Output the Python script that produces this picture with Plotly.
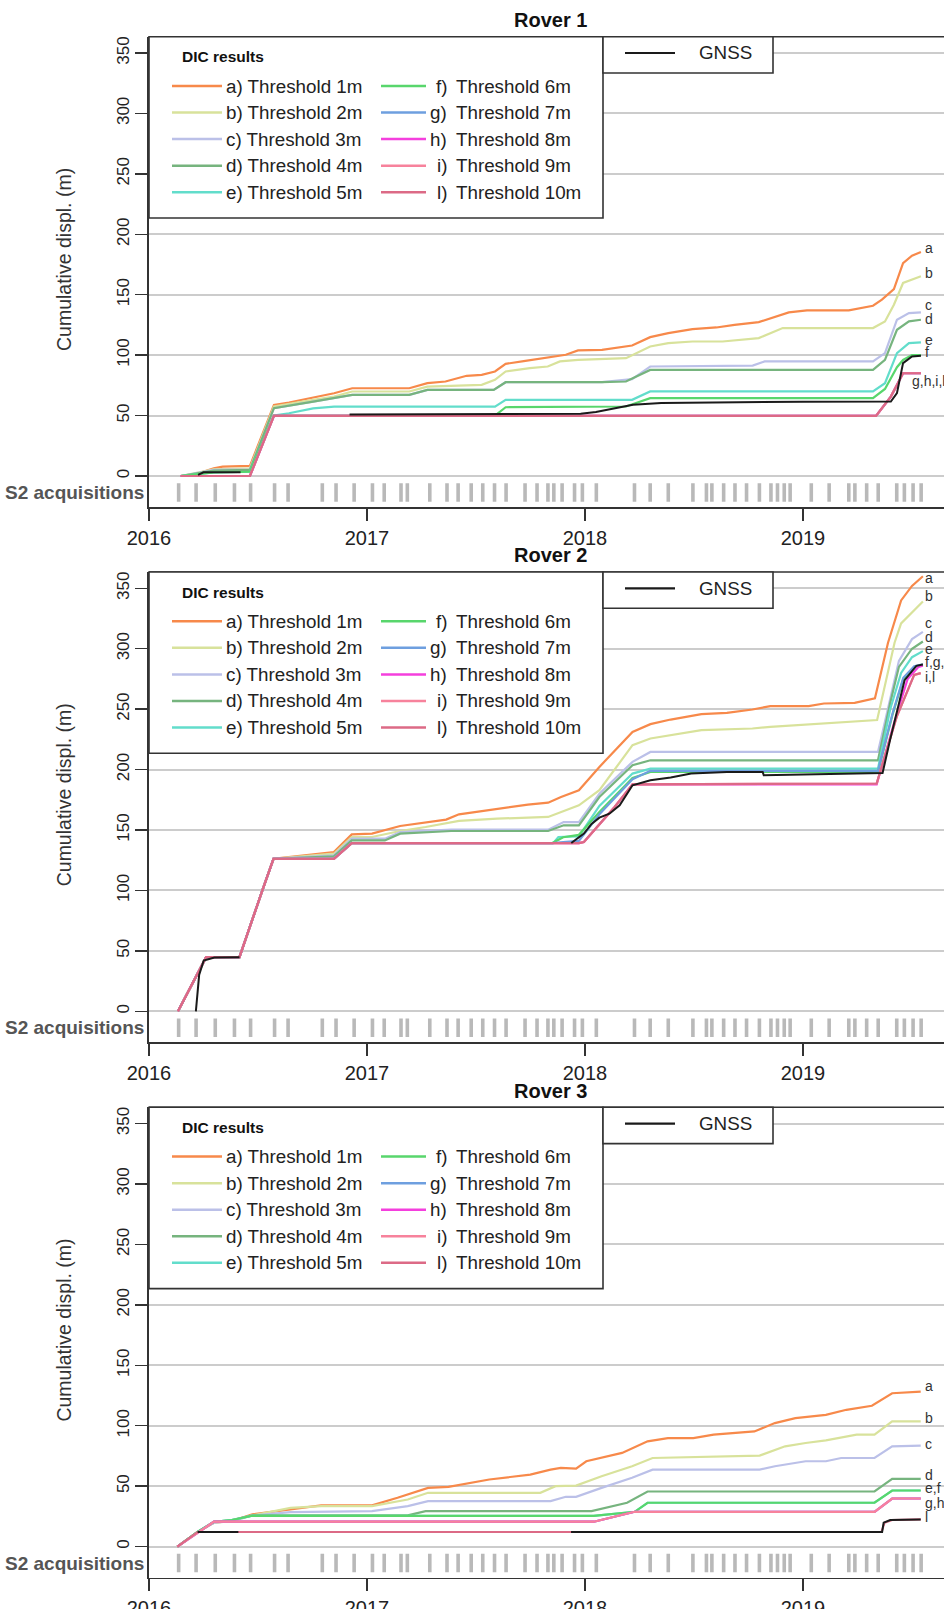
import plotly.graph_objects as go

# ---------------------------------------------------------------- data
SERIES_KEYS = ["a", "b", "c", "d", "e", "f", "g", "h", "i", "l"]
SERIES_NAMES = ["a) Threshold 1m", "b) Threshold 2m", "c) Threshold 3m", "d) Threshold 4m",
                "e) Threshold 5m", "f) Threshold 6m", "g) Threshold 7m", "h) Threshold 8m",
                "i) Threshold 9m", "l) Threshold 10m"]
PANEL_TITLES = ["Rover 1", "Rover 2", "Rover 3"]
X_TICKS = [2016, 2017, 2018, 2019]
Y_TICKS = [0, 50, 100, 150, 200, 250, 300, 350]

# Sentinel-2 acquisition dates (decimal years)
S2_DATES = [2016.136, 2016.216, 2016.304, 2016.392, 2016.466, 2016.576, 2016.638, 2016.795,
            2016.858, 2016.941, 2017.025, 2017.079, 2017.156, 2017.185, 2017.288, 2017.367,
            2017.418, 2017.478, 2017.531, 2017.585, 2017.638, 2017.725, 2017.780, 2017.830,
            2017.857, 2017.895, 2017.952, 2017.988, 2018.052, 2018.227, 2018.299, 2018.382,
            2018.495, 2018.557, 2018.582, 2018.636, 2018.688, 2018.741, 2018.800, 2018.853,
            2018.883, 2018.914, 2018.941, 2019.038, 2019.120, 2019.210, 2019.238, 2019.292,
            2019.345, 2019.430, 2019.465, 2019.505, 2019.542]

# ---- Rover 1
R1_A_T = [2016.145, 2016.228, 2016.297, 2016.338, 2016.463, 2016.573, 2016.642, 2016.753, 2016.849, 2016.932,
          2017.194, 2017.277, 2017.360, 2017.457, 2017.526, 2017.587, 2017.636, 2017.719, 2017.802, 2017.857,
          2017.912, 2017.968, 2018.078, 2018.216, 2018.299, 2018.382, 2018.493, 2018.603, 2018.686, 2018.797,
          2018.880, 2018.935, 2019.018, 2019.210, 2019.321, 2019.362, 2019.417, 2019.459, 2019.500, 2019.541]
R1_A_V = [0, 2.2, 6.4, 7.7, 8.3, 58.8, 60.8, 65.2, 68.5, 72.6,
          72.6, 76.8, 78.2, 82.9, 83.7, 86.5, 92.8, 95.0, 97.2, 98.9,
          100.3, 103.9, 104.4, 108.0, 114.9, 118.2, 121.5, 122.9, 125.1, 127.3,
          132.0, 135.4, 137.0, 137.0, 140.9, 145.9, 154.7, 176.2, 182.3, 185.4]
R1_B_T = [2016.145, 2016.297, 2016.463, 2016.573, 2016.753, 2016.849, 2016.932, 2017.194, 2017.277, 2017.526,
          2017.587, 2017.636, 2017.747, 2017.829, 2017.885, 2017.968, 2018.188, 2018.299, 2018.382, 2018.493,
          2018.631, 2018.714, 2018.797, 2018.907, 2019.321, 2019.376, 2019.417, 2019.459, 2019.514, 2019.541]
R1_B_V = [0, 5.5, 6.4, 57.5, 63.0, 65.7, 69.9, 69.9, 74.0, 75.4,
          79.6, 86.5, 89.2, 90.6, 94.8, 96.1, 97.5, 107.2, 109.9, 111.3,
          111.3, 112.7, 114.1, 122.4, 122.4, 127.9, 141.7, 159.7, 163.8, 165.2]
R1_C_T = [2016.145, 2016.297, 2016.463, 2016.573, 2016.753, 2016.932, 2017.194, 2017.277, 2017.581, 2017.636,
          2018.078, 2018.216, 2018.299, 2018.769, 2018.824, 2019.321, 2019.376, 2019.431, 2019.486, 2019.541]
R1_C_V = [0, 5.0, 5.5, 56.1, 61.6, 67.1, 67.1, 71.3, 71.3, 77.6,
          77.6, 80.1, 90.6, 91.4, 94.8, 94.8, 101.7, 129.3, 134.8, 135.4]
R1_D_T = [2016.145, 2016.297, 2016.463, 2016.573, 2016.753, 2016.932, 2017.194, 2017.277, 2017.581, 2017.636,
          2018.078, 2018.188, 2018.299, 2019.321, 2019.376, 2019.431, 2019.486, 2019.541]
R1_D_V = [0, 4.5, 5.0, 56.1, 61.6, 67.1, 67.1, 71.3, 71.3, 77.6,
          77.6, 78.2, 87.8, 87.8, 96.1, 121.0, 127.9, 129.3]
R1_E_T = [2016.145, 2016.297, 2016.463, 2016.573, 2016.642, 2016.753, 2016.849, 2017.587, 2017.636, 2018.216,
          2018.299, 2019.321, 2019.376, 2019.431, 2019.486, 2019.541]
R1_E_V = [0, 3.0, 3.5, 50.0, 51.9, 56.0, 57.4, 57.4, 63.0, 63.0,
          70.0, 70.0, 76.8, 101.6, 110.0, 110.5]
R1_F_T = [2016.145, 2016.297, 2016.463, 2016.573, 2017.587, 2017.636, 2018.188, 2018.299, 2019.321, 2019.376,
          2019.431, 2019.459, 2019.500, 2019.541]
R1_F_V = [0, 3.0, 3.5, 50.0, 50.0, 56.9, 57.5, 64.4, 64.4, 72.0,
          90.0, 96.0, 100.0, 100.0]
R1_GHIL_T = [2016.145, 2016.463, 2016.573, 2019.335, 2019.403, 2019.459, 2019.541]
R1_GHIL_V = [0, 0, 49.7, 49.7, 65.7, 85.0, 85.0]
R1_GNSS_T = [2016.225, 2016.250, 2016.420, None, 2016.920, 2017.500, 2017.980, 2018.050, 2018.150, 2018.220,
             2018.350, 2018.600, 2019.000, 2019.403, 2019.431, 2019.459, 2019.500, 2019.541]
R1_GNSS_V = [1.0, 3.0, 3.0, None, 50.8, 51.2, 51.6, 53.0, 56.5, 59.0,
             60.5, 61.0, 61.5, 61.6, 68.5, 93.4, 98.9, 99.5]
R1_LABELS = ["a", "b", "c", "d", "e", "f", "g,h,i,l"]
R1_LABEL_V = [188.8, 168.0, 141.8, 129.9, 112.8, 102.3, 78.2]
R1_LABEL_T = [2019.55, 2019.55, 2019.55, 2019.55, 2019.55, 2019.55, 2019.49]

# ---- Rover 2
R2_A_T = [2016.133, 2016.262, 2016.415, 2016.461, 2016.520, 2016.571, 2016.848, 2016.930, 2017.023, 2017.152,
          2017.269, 2017.363, 2017.422, 2017.597, 2017.738, 2017.831, 2017.890, 2017.972, 2018.066, 2018.218,
          2018.300, 2018.393, 2018.534, 2018.651, 2018.768, 2018.850, 2019.026, 2019.096, 2019.237, 2019.330,
          2019.390, 2019.450, 2019.500, 2019.550]
R2_A_V = [0, 44.8, 44.8, 69.6, 100.0, 126.2, 131.8, 146.4, 147.0, 153.3,
          156.0, 158.6, 163.0, 167.7, 171.0, 172.6, 177.3, 182.9, 202.2, 231.2,
          237.6, 241.4, 245.9, 247.0, 249.7, 252.5, 252.5, 254.7, 255.2, 259.0,
          305.0, 340.0, 352.0, 360.0]
R2_B_T = [2016.133, 2016.262, 2016.415, 2016.461, 2016.520, 2016.571, 2016.848, 2016.930, 2017.023, 2017.152,
          2017.269, 2017.422, 2017.597, 2017.831, 2017.890, 2017.972, 2018.066, 2018.218, 2018.300, 2018.534,
          2018.768, 2018.850, 2019.340, 2019.420, 2019.450, 2019.550]
R2_B_V = [0, 44.8, 44.8, 69.6, 100.0, 126.2, 130.4, 144.2, 144.2, 149.2,
          152.5, 157.5, 159.4, 160.8, 164.9, 170.4, 182.9, 220.2, 225.7, 232.6,
          234.0, 235.4, 241.0, 305.0, 321.0, 339.0]
R2_C_T = [2016.133, 2016.262, 2016.415, 2016.461, 2016.520, 2016.571, 2016.848, 2016.930, 2017.082, 2017.152,
          2017.386, 2017.831, 2017.902, 2017.972, 2018.066, 2018.218, 2018.300, 2019.344, 2019.400, 2019.440,
          2019.500, 2019.550]
R2_C_V = [0, 44.8, 44.8, 69.6, 100.0, 126.2, 129.0, 142.8, 142.8, 148.3,
          150.3, 150.3, 156.6, 156.6, 180.0, 206.4, 214.6, 214.6, 260.0, 290.0,
          308.0, 314.0]
R2_D_T = [2016.133, 2016.262, 2016.415, 2016.461, 2016.520, 2016.571, 2016.848, 2016.930, 2017.082, 2017.152,
          2017.386, 2017.831, 2017.902, 2017.972, 2018.066, 2018.218, 2018.300, 2019.344, 2019.400, 2019.440,
          2019.500, 2019.550]
R2_D_V = [0, 44.8, 44.8, 69.6, 100.0, 126.2, 128.2, 141.4, 141.4, 147.0,
          149.2, 149.2, 153.9, 153.9, 177.3, 203.6, 207.7, 207.7, 255.0, 285.0,
          300.0, 306.0]
R2_E_T = [2016.133, 2016.262, 2016.415, 2016.461, 2016.520, 2016.571, 2016.848, 2016.930, 2017.855, 2017.878,
          2017.972, 2018.066, 2018.218, 2018.300, 2019.344, 2019.400, 2019.450, 2019.500, 2019.550]
R2_E_V = [0, 44.8, 44.8, 69.6, 100.0, 126.2, 126.8, 139.2, 139.2, 144.2,
          144.8, 170.0, 196.7, 200.8, 200.8, 250.0, 280.0, 293.0, 298.0]
R2_F_T = [2016.133, 2016.262, 2016.415, 2016.461, 2016.520, 2016.571, 2016.848, 2016.930, 2017.850, 2017.900,
          2017.972, 2018.066, 2018.218, 2018.300, 2019.344, 2019.410, 2019.460, 2019.510, 2019.550]
R2_F_V = [0, 44.8, 44.8, 69.6, 100.0, 126.2, 126.2, 139.2, 139.2, 144.0,
          146.0, 165.0, 193.0, 198.0, 198.0, 245.0, 275.0, 285.0, 287.0]
R2_G_T = [2016.133, 2016.262, 2016.415, 2016.461, 2016.520, 2016.571, 2016.848, 2016.930, 2017.850, 2017.900,
          2017.972, 2018.066, 2018.218, 2018.300, 2019.344, 2019.410, 2019.460, 2019.510, 2019.550]
R2_G_V = [0, 44.8, 44.8, 69.6, 100.0, 126.2, 126.2, 139.2, 139.2, 140.0,
          141.0, 163.0, 192.0, 199.0, 199.0, 246.0, 276.0, 285.5, 287.0]
R2_H_T = [2016.133, 2016.262, 2016.415, 2016.461, 2016.520, 2016.571, 2016.848, 2016.930, 2017.972, 2017.995,
          2018.066, 2018.136, 2018.218, 2019.338, 2019.420, 2019.480, 2019.530, 2019.550]
R2_H_V = [0, 44.8, 44.8, 69.6, 100.0, 126.2, 126.2, 139.2, 139.2, 140.0,
          155.0, 169.0, 187.8, 187.8, 240.0, 275.0, 285.0, 286.0]
R2_IL_T = [2016.133, 2016.262, 2016.415, 2016.461, 2016.520, 2016.571, 2016.848, 2016.930, 2017.972, 2017.995,
           2018.066, 2018.136, 2018.218, 2019.338, 2019.430, 2019.510, 2019.540]
R2_IL_V = [0, 44.8, 44.8, 69.6, 100.0, 126.2, 126.2, 139.2, 139.2, 140.0,
           155.0, 169.0, 187.8, 188.5, 243.8, 278.3, 279.8]
R2_GNSS_T = [2016.215, 2016.230, 2016.251, 2016.300, 2016.415, None, 2017.937, 2017.995, 2018.030, 2018.066,
             2018.112, 2018.159, 2018.218, 2018.300, 2018.393, 2018.487, 2018.651, 2018.815, 2018.820, 2019.002,
             2019.365, 2019.400, 2019.466, 2019.520, 2019.550]
R2_GNSS_V = [0, 30.0, 42.0, 44.5, 44.8, None, 139.2, 147.0, 155.0, 160.2,
             163.5, 170.4, 187.0, 191.2, 193.4, 196.7, 198.0, 198.0, 195.3, 196.0,
             197.2, 225.0, 274.0, 285.8, 287.0]
R2_LABELS = ["a", "b", "c", "d", "e", "f,g,h", "i,l"]
R2_LABEL_V = [358.5, 343.3, 321.2, 309.6, 299.7, 289.4, 276.5]
R2_LABEL_T = [2019.55] * 7

# ---- Rover 3
R3_A_T = [2016.130, 2016.223, 2016.298, 2016.380, 2016.474, 2016.649, 2016.790, 2017.023, 2017.140, 2017.280,
          2017.374, 2017.561, 2017.749, 2017.842, 2017.889, 2017.959, 2018.006, 2018.170, 2018.287, 2018.380,
          2018.497, 2018.590, 2018.777, 2018.871, 2018.965, 2019.105, 2019.199, 2019.316, 2019.409, 2019.540]
R3_A_V = [0, 12.1, 19.8, 21.2, 26.6, 30.8, 34.1, 34.1, 40.4, 48.6,
          49.4, 55.5, 59.6, 63.7, 65.1, 64.5, 70.6, 77.5, 87.1, 89.8,
          89.8, 92.6, 95.3, 102.2, 106.3, 109.0, 113.2, 116.5, 126.9, 128.3]
R3_B_T = [2016.130, 2016.223, 2016.298, 2016.380, 2016.474, 2016.649, 2016.790, 2017.023, 2017.187, 2017.280,
          2017.795, 2017.865, 2017.959, 2018.076, 2018.216, 2018.310, 2018.801, 2018.918, 2019.012, 2019.105,
          2019.246, 2019.328, 2019.409, 2019.540]
R3_B_V = [0, 12.1, 19.8, 21.0, 25.8, 32.1, 33.5, 33.5, 39.0, 44.5,
          44.5, 50.0, 50.5, 58.2, 66.5, 73.3, 75.3, 83.0, 85.7, 87.9,
          92.6, 92.6, 103.6, 103.6]
R3_C_T = [2016.130, 2016.223, 2016.298, 2016.380, 2016.474, 2016.649, 2017.023, 2017.187, 2017.280, 2017.842,
          2017.912, 2017.959, 2018.076, 2018.216, 2018.310, 2018.801, 2018.871, 2019.012, 2019.105, 2019.175,
          2019.328, 2019.409, 2019.540]
R3_C_V = [0, 12.1, 19.8, 21.0, 25.8, 28.6, 29.4, 33.5, 37.6, 37.6,
          41.2, 41.2, 48.6, 56.9, 63.7, 63.7, 66.5, 70.6, 70.6, 73.3,
          73.3, 83.0, 83.5]
R3_D_T = [2016.130, 2016.223, 2016.298, 2016.380, 2016.474, 2017.187, 2017.269, 2018.030, 2018.193, 2018.287,
          2019.328, 2019.409, 2019.540]
R3_D_V = [0, 12.1, 20.6, 22.0, 25.8, 25.8, 29.4, 29.4, 36.3, 45.6,
          45.6, 56.0, 56.0]
R3_EF_T = [2016.130, 2016.223, 2016.298, 2016.380, 2016.474, 2018.040, 2018.228, 2018.287, 2019.328, 2019.409,
           2019.540]
R3_EF_V = [0, 12.1, 20.6, 22.0, 25.5, 25.5, 28.8, 36.3, 36.3, 46.4,
           46.4]
R3_GHI_T = [2016.130, 2016.298, 2018.041, 2018.228, 2019.328, 2019.409, 2019.540]
R3_GHI_V = [0, 20.6, 20.6, 28.8, 28.8, 39.8, 39.8]
R3_L_T = [2016.130, 2016.223, 2019.360, 2019.374, 2019.409, 2019.540]
R3_L_V = [0, 12.1, 12.1, 19.8, 22.0, 22.5]
R3_GNSS_T = [2016.223, 2016.410, None, 2017.936, 2019.363, 2019.370, 2019.400, 2019.540]
R3_GNSS_V = [12.1, 12.1, None, 12.1, 12.1, 19.8, 22.0, 22.5]
R3_LABELS = ["a", "b", "c", "d", "e,f", "g,h,i", "l"]
R3_LABEL_V = [132.9, 106.7, 84.6, 58.9, 48.7, 36.2, 24.3]
R3_LABEL_T = [2019.55] * 7

# ---------------------------------------------------------------- styling
COLORS = {"a": "#F7894A", "b": "#D8E29B", "c": "#BBC0E8", "d": "#76B47E", "e": "#62DDCB",
          "f": "#58D66C", "g": "#6E9FDF", "h": "#F43FDD", "i": "#F7829C", "l": "#DC6A86"}
GNSS_COLOR = "#1a1a1a"
FONT = "Liberation Sans, Arial, Helvetica, sans-serif"
AXIS_COLOR = "#333333"
W, H = 944, 1609
PLOT_LEFT = 149
PX_PER_YEAR = 218.0
X_RANGE = [2016.0, 2016.0 + (W - PLOT_LEFT) / PX_PER_YEAR]
PANEL_DY = 535.3
BOX_TOP, ZERO_Y, AXIS_Y, Y350 = 36.7, 476.0, 507.0, 53.0
PX_PER_UNIT = (ZERO_Y - Y350) / 350.0
Y_RANGE = [-(AXIS_Y - ZERO_Y) / PX_PER_UNIT, 350 + (Y350 - BOX_TOP) / PX_PER_UNIT]
STRIP_Y = [-6.0, -21.3]


def fx(px):
    return px / W


def fy(py):
    return 1 - py / H


panels = [
    {"a": (R1_A_T, R1_A_V), "b": (R1_B_T, R1_B_V), "c": (R1_C_T, R1_C_V), "d": (R1_D_T, R1_D_V),
     "e": (R1_E_T, R1_E_V), "f": (R1_F_T, R1_F_V), "g": (R1_GHIL_T, R1_GHIL_V), "h": (R1_GHIL_T, R1_GHIL_V),
     "i": (R1_GHIL_T, R1_GHIL_V), "l": (R1_GHIL_T, R1_GHIL_V), "gnss": (R1_GNSS_T, R1_GNSS_V),
     "labels": (R1_LABELS, R1_LABEL_T, R1_LABEL_V)},
    {"a": (R2_A_T, R2_A_V), "b": (R2_B_T, R2_B_V), "c": (R2_C_T, R2_C_V), "d": (R2_D_T, R2_D_V),
     "e": (R2_E_T, R2_E_V), "f": (R2_F_T, R2_F_V), "g": (R2_G_T, R2_G_V), "h": (R2_H_T, R2_H_V),
     "i": (R2_IL_T, R2_IL_V), "l": (R2_IL_T, R2_IL_V), "gnss": (R2_GNSS_T, R2_GNSS_V),
     "labels": (R2_LABELS, R2_LABEL_T, R2_LABEL_V)},
    {"a": (R3_A_T, R3_A_V), "b": (R3_B_T, R3_B_V), "c": (R3_C_T, R3_C_V), "d": (R3_D_T, R3_D_V),
     "e": (R3_EF_T, R3_EF_V), "f": (R3_EF_T, R3_EF_V), "g": (R3_GHI_T, R3_GHI_V), "h": (R3_GHI_T, R3_GHI_V),
     "i": (R3_GHI_T, R3_GHI_V), "l": (R3_L_T, R3_L_V), "gnss": (R3_GNSS_T, R3_GNSS_V),
     "labels": (R3_LABELS, R3_LABEL_T, R3_LABEL_V)},
]

fig = go.Figure()
shapes, annotations = [], []
layout_axes = {}

for k, pdata in enumerate(panels):
    dy = PANEL_DY * k
    sfx = "" if k == 0 else str(k + 1)
    xa, ya = "x" + sfx, "y" + sfx

    # S2 acquisition strip
    sx, sy = [], []
    for d in S2_DATES:
        sx += [d, d, None]
        sy += [STRIP_Y[0], STRIP_Y[1], None]
    fig.add_trace(go.Scatter(x=sx, y=sy, mode="lines", xaxis=xa, yaxis=ya,
                             line=dict(color="#b9b9b9", width=3.6), hoverinfo="skip", showlegend=False))

    for key in SERIES_KEYS:
        t, v = pdata[key]
        fig.add_trace(go.Scatter(x=t, y=v, mode="lines", xaxis=xa, yaxis=ya,
                                 line=dict(color=COLORS[key], width=2.2), showlegend=False,
                                 name=key, connectgaps=False))
    t, v = pdata["gnss"]
    fig.add_trace(go.Scatter(x=t, y=v, mode="lines", xaxis=xa, yaxis=ya,
                             line=dict(color=GNSS_COLOR, width=2.0), showlegend=False,
                             name="GNSS", connectgaps=False))

    # end labels
    labs, lt, lv = pdata["labels"]
    for lab, tt, vv in zip(labs, lt, lv):
        annotations.append(dict(x=tt, y=vv, xref=xa, yref=ya, text=lab, showarrow=False,
                                xanchor="left", yanchor="middle",
                                font=dict(family=FONT, size=14, color="#333333")))

    # axes
    dom = [fy(AXIS_Y + dy), fy(BOX_TOP + dy)]
    layout_axes["xaxis" + sfx] = dict(
        domain=[fx(PLOT_LEFT), 1.0], range=X_RANGE, anchor=ya, tickvals=X_TICKS,
        ticktext=[str(t) for t in X_TICKS], ticks="outside", ticklen=12, tickwidth=1.5,
        tickcolor=AXIS_COLOR, showline=True, linecolor=AXIS_COLOR, linewidth=1.6,
        showgrid=False, zeroline=False, automargin=False,
        tickfont=dict(family=FONT, size=20, color="#222222"), fixedrange=True)
    layout_axes["yaxis" + sfx] = dict(
        domain=dom, range=Y_RANGE, anchor=xa, tickvals=Y_TICKS, ticks="outside", ticklen=12,
        tickwidth=1.5, tickcolor=AXIS_COLOR, showline=True, linecolor=AXIS_COLOR, linewidth=1.6,
        showgrid=True, gridcolor="#cccccc", gridwidth=2, zeroline=False, tickangle=-90,
        automargin=False, ticklabelstandoff=0,
        tickfont=dict(family=FONT, size=17, color="#222222"), fixedrange=True)

    # top border of the plot box
    shapes.append(dict(type="line", xref="paper", yref="paper", x0=fx(PLOT_LEFT), x1=1.0,
                       y0=fy(BOX_TOP + dy), y1=fy(BOX_TOP + dy),
                       line=dict(color=AXIS_COLOR, width=1.6), layer="above"))

    # panel title
    annotations.append(dict(x=fx(550), y=fy(20 + dy), xref="paper", yref="paper",
                            text="<b>%s</b>" % PANEL_TITLES[k], showarrow=False,
                            xanchor="center", yanchor="middle",
                            font=dict(family=FONT, size=20, color="#111111")))
    # y axis title
    annotations.append(dict(x=fx(64), y=fy(260 + dy), xref="paper", yref="paper",
                            text="Cumulative displ. (m)", showarrow=False, textangle=-90,
                            xanchor="center", yanchor="middle",
                            font=dict(family=FONT, size=19.5, color="#333333")))
    # S2 label
    annotations.append(dict(x=fx(146), y=sum(STRIP_Y) / 2, xref="paper", yref=ya,
                            text="<b>S2 acquisitions</b>", showarrow=False,
                            xanchor="right", yanchor="middle",
                            font=dict(family=FONT, size=19, color="#555555")))

    # ---- legend: DIC results box
    shapes.append(dict(type="rect", xref="paper", yref="paper", x0=fx(PLOT_LEFT), x1=fx(603),
                       y0=fy(218 + dy), y1=fy(BOX_TOP + dy), fillcolor="white",
                       line=dict(color=AXIS_COLOR, width=1.6), layer="above"))
    shapes.append(dict(type="rect", xref="paper", yref="paper", x0=fx(603), x1=fx(773),
                       y0=fy(73 + dy), y1=fy(BOX_TOP + dy), fillcolor="white",
                       line=dict(color=AXIS_COLOR, width=1.6), layer="above"))
    annotations.append(dict(x=fx(180), y=fy(57 + dy), xref="paper", yref="paper",
                            text="<b>DIC results</b>", showarrow=False, xanchor="left",
                            yanchor="middle", font=dict(family=FONT, size=15.5, color="#111111")))
    for j, (key, name) in enumerate(zip(SERIES_KEYS, SERIES_NAMES)):
        col, row = divmod(j, 5)
        yy = fy(86 + 26.55 * row + dy)
        if col == 0:
            lx0, lx1 = 172, 222
        else:
            lx0, lx1 = 381, 426
        shapes.append(dict(type="line", xref="paper", yref="paper", x0=fx(lx0), x1=fx(lx1),
                           y0=yy, y1=yy, line=dict(color=COLORS[key], width=2.5), layer="above"))
        if col == 0:
            annotations.append(dict(x=fx(224), y=yy, xref="paper", yref="paper", text=name,
                                    showarrow=False, xanchor="left", yanchor="middle",
                                    font=dict(family=FONT, size=18.8, color="#222222")))
        else:
            prefix, rest = name.split(" ", 1)
            annotations.append(dict(x=fx(448.6), y=yy, xref="paper", yref="paper", text=prefix,
                                    showarrow=False, xanchor="right", yanchor="middle",
                                    font=dict(family=FONT, size=18.8, color="#222222")))
            annotations.append(dict(x=fx(453.8), y=yy, xref="paper", yref="paper", text=rest,
                                    showarrow=False, xanchor="left", yanchor="middle",
                                    font=dict(family=FONT, size=18.8, color="#222222")))
    # GNSS legend
    shapes.append(dict(type="line", xref="paper", yref="paper", x0=fx(625), x1=fx(675),
                       y0=fy(53 + dy), y1=fy(53 + dy), line=dict(color=GNSS_COLOR, width=2.2),
                       layer="above"))
    annotations.append(dict(x=fx(725), y=fy(53 + dy), xref="paper", yref="paper", text="GNSS",
                            showarrow=False, xanchor="center", yanchor="middle",
                            font=dict(family=FONT, size=18.8, color="#222222")))

fig.update_layout(
    width=W, height=H, margin=dict(l=0, r=0, t=0, b=0, pad=0, autoexpand=False), autosize=False,
    paper_bgcolor="white", plot_bgcolor="white", showlegend=False,
    shapes=shapes, annotations=annotations, **layout_axes)

fig.write_html("out.html", config={"displayModeBar": False, "staticPlot": True},
               post_script="document.body.style.margin='0px';"
               "document.body.style.overflow='hidden';")
